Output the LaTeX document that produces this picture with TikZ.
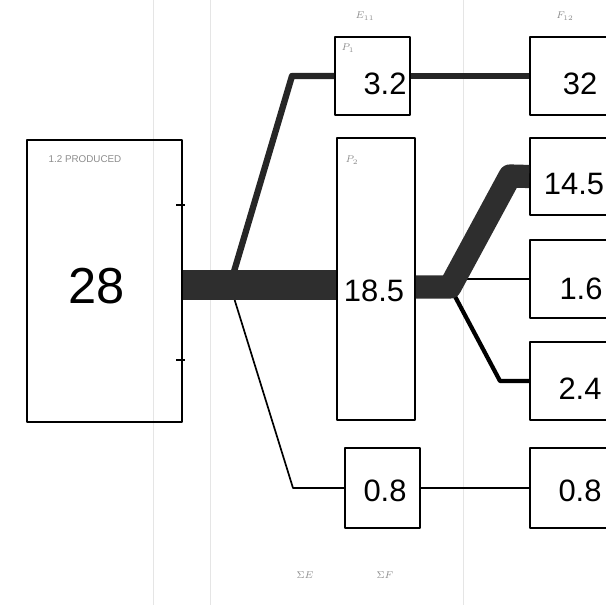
\documentclass[tikz,border=0pt]{standalone}
\usepackage{fontspec}
\setmainfont{Liberation Sans}
\begin{document}
\begin{tikzpicture}[scale=.25, line join=round,
  box/.style={draw, line width=1.2pt, inner sep=0pt},
  num/.style={font=\fontsize{22}{22}\selectfont},
  tag/.style={font=\scriptsize, text=black!45, inner sep=0pt}]
\useasboundingbox (0,0) rectangle (60.6,-60.5);
\clip (0,0) rectangle (60.6,-60.5);
% fold lines of the sheet
\draw[black!10](15.3,0)--(15.3,-60.5);
\draw[black!10](21,0)--(21,-60.5);
\draw[black!10](46.3,0)--(46.3,-60.5);
% boxes
\node[box, minimum width=3.875cm, minimum height=7.05cm](src) at (10.45,-28.1){};
\node[box, minimum width=1.875cm, minimum height=1.95cm](e1) at (37.25,-7.6){};
\node[box, minimum width=1.95cm, minimum height=7.05cm](mid) at (37.6,-27.9){};
\node[box, minimum width=1.875cm, minimum height=2cm](low) at (38.25,-48.8){};
\node[box, minimum width=1.95cm, minimum height=1.95cm](r1) at (56.9,-7.6){};
\node[box, minimum width=1.95cm, minimum height=1.925cm](r2) at (56.9,-17.65){};
\node[box, minimum width=1.95cm, minimum height=1.95cm](r3) at (56.9,-27.9){};
\node[box, minimum width=1.95cm, minimum height=1.95cm](r4) at (56.9,-38.1){};
\node[box, minimum width=1.95cm, minimum height=2cm](r5) at (56.9,-48.8){};
% ticks on the edge of the source box
\draw[line width=.8pt](17.6,-20.5)--(18.5,-20.5);
\draw[line width=.8pt](17.6,-36)--(18.5,-36);
% flows
\coordinate (ja) at (23,-28.5);
\coordinate (jb) at (45,-28.7);
\draw[line width=4.5pt, black!85](ja)--(29.2,-7.6)--(e1.west);
\draw[line width=4.5pt, black!85](e1.east)--(r1.west);
\draw[line width=1.2pt](ja)--(29.3,-48.8)--(low.west);
\draw[line width=1.2pt](low.east)--(r5.west);
\draw[line width=1.2pt](jb|-r3.west)--(r3.west);
\draw[line width=3pt](jb)--(50,-38.1)--(r4.west);
\draw[line width=22pt, black!82](src.east|-ja)--(mid.west|-ja);
\draw[line width=16.5pt, black!82](mid.east|-jb)--(jb)--(51,-17.6)--(r2.west);
% values
\node[font=\fontsize{36}{36}\selectfont](v0) at (9.65,-28.65){28};
\node[num](v1) at (38.5,-8.35){3.2};
\node[num](v2) at (37.4,-29.1){18.5};
\node[num](v3) at (38.5,-49.1){0.8};
\node[num](w1) at (58,-8.35){32};
\node[num](w2) at (57.4,-18.4){14.5};
\node[num](w3) at (58.1,-28.9){1.6};
\node[num](w4) at (58,-38.9){2.4};
\node[num](w5) at (58,-49.1){0.8};
% small marks
\node[tag](t0) at (8.5,-15.9){1.2 PRODUCED};
\node[tag](t1) at (36.5,-1.6){$E_{11}$};
\node[tag](t2) at (56.5,-1.6){$F_{12}$};
\node[tag](t3) at (34.8,-4.8){$P_1$};
\node[tag](t4) at (35.2,-16){$P_2$};
\node[tag](t5) at (30.5,-57.5){$\Sigma E$};
\node[tag](t6) at (38.5,-57.5){$\Sigma F$};
\end{tikzpicture}
\end{document}
